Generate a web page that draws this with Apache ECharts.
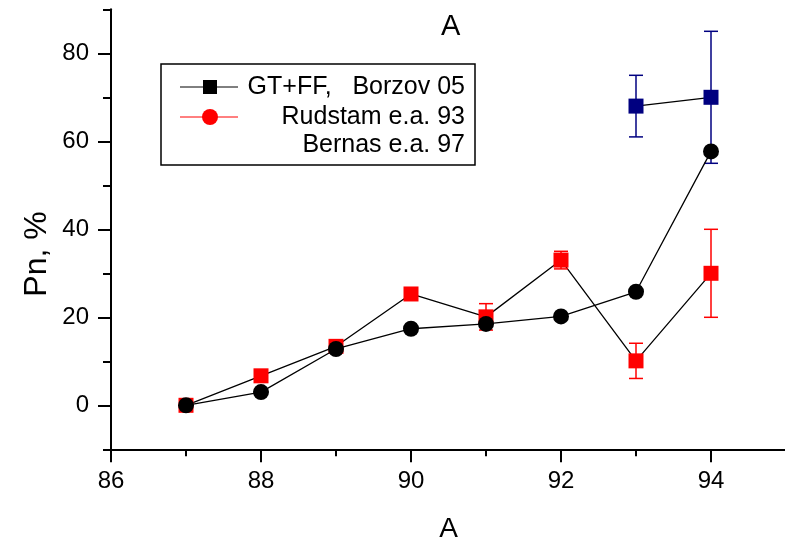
<!DOCTYPE html>
<html>
<head>
<meta charset="utf-8">
<script src="https://cdn.jsdelivr.net/npm/echarts@6/dist/echarts.min.js"></script>
<style>
  html, body { margin: 0; padding: 0; background: #fff; }
  #chart { width: 785px; height: 546px; }
</style>
</head>
<body>
<div id="chart"></div>
<script>
// Mass numbers A and delayed-neutron emission probability Pn (%)
const massNumbers = [87, 88, 89, 90, 91, 92, 93, 94];
const borzovPn    = [0, 3.0, 12.8, 17.4, 18.5, 20.2, 25.8, 57.7];
const rudstamPn   = [0, 6.7, 13.4, 25.3, 20.1, 33.0, 10.1, 30.0];
const rudstamErr  = [0, 0, 0, 0, 3, 2, 4, 10];
const bernasA     = [93, 94];
const bernasPn    = [68, 70];
const bernasErr   = [7, 15];

// Axis ticks
const xMajorTicks = [86, 88, 90, 92, 94];
const xMinorTicks = [87, 89, 91, 93];
const yMajorTicks = [0, 20, 40, 60, 80];
const yMinorTicks = [-10, 10, 30, 50, 70, 90];

const legendNames = ['GT+FF,   Borzov 05', 'Rudstam e.a. 93', 'Bernas e.a. 97'];

const FONT = "'Liberation Sans', Arial, Helvetica, sans-serif";

const pairs = (xs, ys) => xs.map((x, i) => [x, ys[i]]);
const errRows = (xs, ys, es) => xs.map((x, i) => [x, ys[i] - es[i], ys[i] + es[i]])
                                   .filter((r, i) => es[i] > 0);

function errorBar(color) {
  return function (params, api) {
    const x = api.value(0);
    const lo = api.coord([x, api.value(1)]);
    const hi = api.coord([x, api.value(2)]);
    const cap = 7;
    const style = { stroke: color, lineWidth: 1.5 };
    return {
      type: 'group',
      children: [
        { type: 'line', shape: { x1: lo[0], y1: lo[1], x2: hi[0], y2: hi[1] }, style },
        { type: 'line', shape: { x1: lo[0] - cap, y1: lo[1], x2: lo[0] + cap, y2: lo[1] }, style },
        { type: 'line', shape: { x1: hi[0] - cap, y1: hi[1], x2: hi[0] + cap, y2: hi[1] }, style }
      ]
    };
  };
}

const chart = echarts.init(document.getElementById('chart'), null, { renderer: 'canvas' });

const axisLineStyle = { color: '#000', width: 2 };

chart.setOption({
  animation: false,
  backgroundColor: '#fff',
  textStyle: { fontFamily: FONT, color: '#000' },
  grid: { left: 111, top: 9.3, width: 675, height: 440, containLabel: false, outerBoundsMode: 'none' },
  xAxis: [
    {
      type: 'value', min: 86, max: 95, position: 'bottom',
      name: 'A', nameLocation: 'middle', nameGap: 66,
      nameTextStyle: { fontSize: 28, color: '#000', fontFamily: FONT },
      axisLine: { show: true, onZero: false, lineStyle: axisLineStyle },
      axisTick: { show: true, inside: false, length: 13, customValues: xMajorTicks, lineStyle: { color: '#000', width: 2 } },
      axisLabel: { show: true, margin: 20, fontSize: 24, color: '#000', fontFamily: FONT, customValues: xMajorTicks },
      splitLine: { show: false }
    },
    {
      type: 'value', min: 86, max: 95, position: 'bottom',
      axisLine: { show: false, onZero: false },
      axisTick: { show: true, inside: false, length: 7, customValues: xMinorTicks, lineStyle: { color: '#000', width: 2 } },
      axisLabel: { show: false },
      splitLine: { show: false }
    }
  ],
  yAxis: [
    {
      type: 'value', min: -10, max: 90, position: 'left',
      axisLine: { show: true, onZero: false, lineStyle: axisLineStyle },
      axisTick: { show: true, inside: false, length: 13, customValues: yMajorTicks, lineStyle: { color: '#000', width: 2 } },
      axisLabel: { show: true, margin: 22, fontSize: 24, color: '#000', fontFamily: FONT, customValues: yMajorTicks },
      splitLine: { show: false }
    },
    {
      type: 'value', min: -10, max: 90, position: 'left',
      axisLine: { show: false, onZero: false },
      axisTick: { show: true, inside: false, length: 8, customValues: yMinorTicks, lineStyle: { color: '#000', width: 2 } },
      axisLabel: { show: false },
      splitLine: { show: false }
    }
  ],
  series: [
    {
      name: legendNames[1], type: 'line', xAxisIndex: 0, yAxisIndex: 0,
      data: pairs(massNumbers, rudstamPn),
      symbol: 'rect', symbolSize: 15,
      itemStyle: { color: '#ff0000' },
      lineStyle: { color: '#000', width: 1.3 },
      z: 2
    },
    {
      name: legendNames[1] + ' err', type: 'custom', xAxisIndex: 0, yAxisIndex: 0,
      data: errRows(massNumbers, rudstamPn, rudstamErr),
      renderItem: errorBar('#ff0000'),
      z: 3
    },
    {
      name: legendNames[0], type: 'line', xAxisIndex: 0, yAxisIndex: 0,
      data: pairs(massNumbers, borzovPn),
      symbol: 'circle', symbolSize: 16,
      itemStyle: { color: '#000' },
      lineStyle: { color: '#000', width: 1.3 },
      z: 5
    },
    {
      name: legendNames[2] + ' err', type: 'custom', xAxisIndex: 0, yAxisIndex: 0,
      data: errRows(bernasA, bernasPn, bernasErr),
      renderItem: errorBar('#000080'),
      z: 4
    },
    {
      name: legendNames[2], type: 'line', xAxisIndex: 0, yAxisIndex: 0,
      data: pairs(bernasA, bernasPn),
      symbol: 'rect', symbolSize: 15,
      itemStyle: { color: '#000080' },
      lineStyle: { color: '#000', width: 1.3 },
      z: 6
    }
  ],
  graphic: [
    // panel title
    {
      type: 'text', left: 441, top: 12,
      style: { text: 'A', font: '29px ' + FONT, fill: '#000' }
    },
    // y axis title
    {
      type: 'text', x: 21, y: 254, rotation: Math.PI / 2,
      style: { text: 'Pn, %', font: '32px ' + FONT, fill: '#000', align: 'center', verticalAlign: 'top' }
    },
    // legend box
    {
      type: 'group', z: 20,
      children: [
        { type: 'rect', shape: { x: 161, y: 64, width: 314, height: 101 },
          style: { fill: '#fff', stroke: '#000', lineWidth: 1.5 } },
        { type: 'line', shape: { x1: 180, y1: 87, x2: 238, y2: 87 }, style: { stroke: '#000', lineWidth: 1 } },
        { type: 'rect', shape: { x: 203, y: 80, width: 14, height: 14 }, style: { fill: '#000' } },
        { type: 'text', style: { x: 465, y: 87, text: legendNames[0], font: '25px ' + FONT, fill: '#000', align: 'right', verticalAlign: 'middle' } },
        { type: 'line', shape: { x1: 180, y1: 117, x2: 238, y2: 117 }, style: { stroke: '#ff0000', lineWidth: 1 } },
        { type: 'circle', shape: { cx: 210, cy: 117, r: 8 }, style: { fill: '#ff0000' } },
        { type: 'text', style: { x: 465, y: 117, text: legendNames[1], font: '25px ' + FONT, fill: '#000', align: 'right', verticalAlign: 'middle' } },
        { type: 'text', style: { x: 465, y: 145, text: legendNames[2], font: '25px ' + FONT, fill: '#000', align: 'right', verticalAlign: 'middle' } }
      ]
    }
  ]
});
</script>
</body>
</html>
